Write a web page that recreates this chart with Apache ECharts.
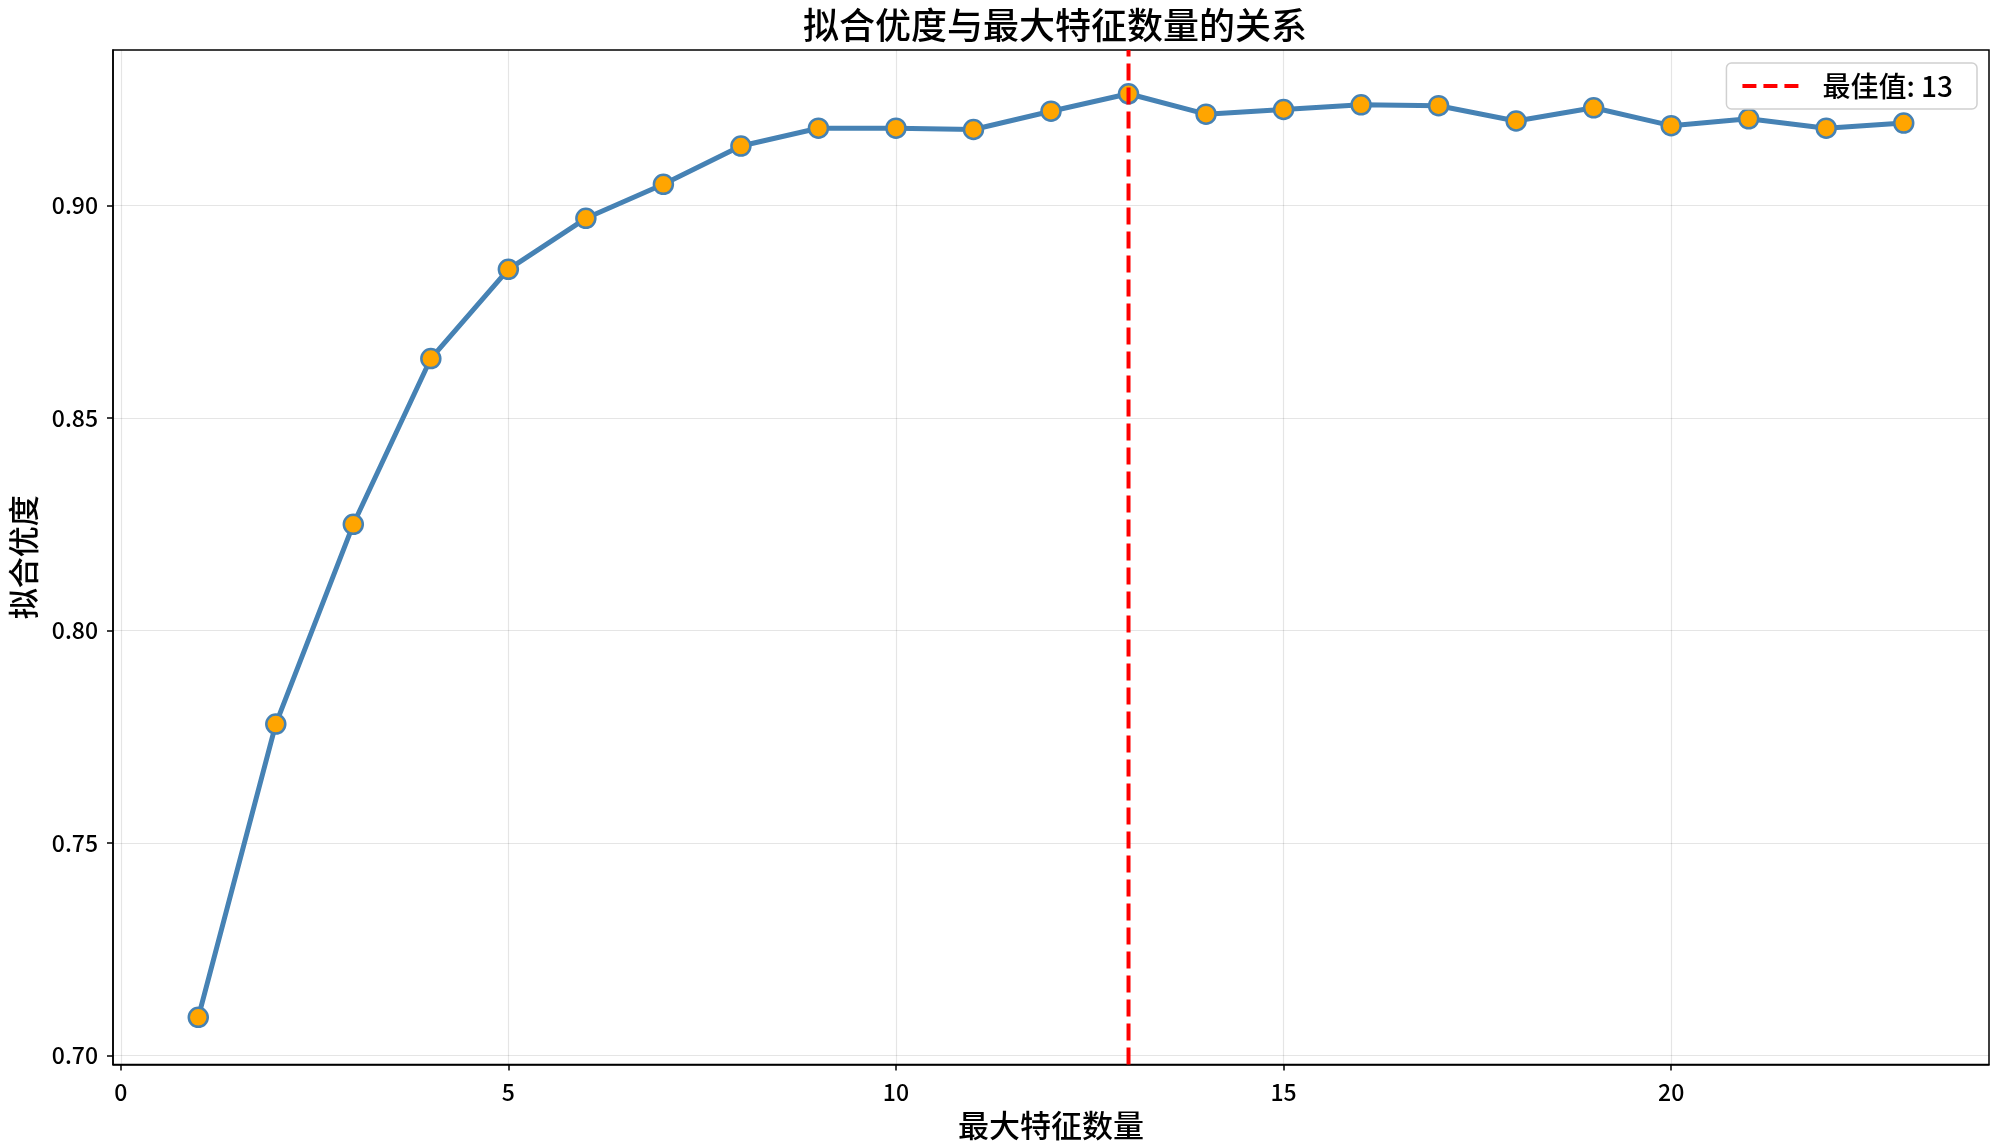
<!DOCTYPE html>
<html>
<head>
<meta charset="utf-8">
<script src="https://cdn.jsdelivr.net/npm/echarts@6/dist/echarts.min.js"></script>
<style>
  html, body { margin: 0; padding: 0; background: #fff; }
  #chart { width: 1999px; height: 1146px; }
</style>
</head>
<body>
<div id="chart"></div>
<script>
// max features tried and the fit score for each
const featureCounts = [1, 2, 3, 4, 5, 6, 7, 8, 9, 10, 11, 12, 13, 14, 15, 16, 17, 18, 19, 20, 21, 22, 23];
const fitScores = [0.709, 0.778, 0.825, 0.864, 0.885, 0.897, 0.905, 0.914, 0.9182, 0.9182, 0.9179, 0.9222, 0.9263,
  0.9215, 0.9226, 0.9237, 0.9235, 0.9199, 0.9230, 0.9188, 0.9204, 0.9182, 0.9194];
const bestK = 13;
const xTicks = [0, 5, 10, 15, 20];
const yTicks = [0.70, 0.75, 0.80, 0.85, 0.90];
const xRange = [-0.1, 24.1];
const yRange = [0.6979, 0.9366];

const FONT = '"Noto Sans CJK SC", "Noto Sans", sans-serif';
const chart = echarts.init(document.getElementById('chart'));

const axisCommon = {
  axisLine: { show: true, onZero: false, lineStyle: { color: '#000', width: 1.5 } },
  axisTick: { show: true, length: 6, lineStyle: { color: '#000', width: 1.5 } },
  splitLine: { show: true, lineStyle: { color: 'rgba(0,0,0,0.1)', width: 1.2 } },
  nameTextStyle: { fontFamily: FONT, fontSize: 31, fontWeight: 500, color: '#000' },
};

chart.setOption({
  animation: false,
  backgroundColor: '#fff',
  title: {
    text: '拟合优度与最大特征数量的关系',
    left: 1050,
    textAlign: 'center',
    top: 2,
    textStyle: { fontFamily: FONT, fontSize: 36, fontWeight: 500, color: '#000' },
  },
  legend: {
    data: ['最佳值: ' + bestK],
    right: 22,
    top: 63,
    padding: [9, 24, 9, 14],
    borderColor: '#d0d0d0',
    borderWidth: 1.5,
    borderRadius: 5,
    backgroundColor: 'rgba(255,255,255,0.85)',
    itemWidth: 57,
    itemHeight: 20,
    itemStyle: { opacity: 0 },
    lineStyle: { width: 4, type: [14, 7] },
    textStyle: { fontFamily: FONT, fontSize: 28, fontWeight: 500, color: '#000', padding: [0, 0, 0, 18] },
  },
  grid: { left: 111, right: 10, top: 50, bottom: 81.5, containLabel: false, show: true, borderColor: '#000', borderWidth: 1.5 },
  xAxis: {
    ...axisCommon,
    type: 'value',
    min: xRange[0],
    max: xRange[1],
    name: '最大特征数量',
    nameLocation: 'middle',
    nameGap: 45,
    axisTick: { ...axisCommon.axisTick, customValues: xTicks },
    axisLabel: { customValues: xTicks, margin: 16, fontFamily: FONT, fontSize: 23, fontWeight: 500, color: '#000' },
  },
  yAxis: {
    ...axisCommon,
    type: 'value',
    min: yRange[0],
    max: yRange[1],
    name: '拟合优度',
    nameLocation: 'middle',
    nameGap: 74,
    axisTick: { ...axisCommon.axisTick, customValues: yTicks },
    axisLabel: {
      customValues: yTicks, margin: 15, fontFamily: FONT, fontSize: 23, fontWeight: 500, color: '#000',
      formatter: v => v.toFixed(2),
    },
  },
  series: [
    {
      name: '拟合优度',
      type: 'line',
      data: featureCounts.map((k, i) => [k, fitScores[i]]),
      lineStyle: { color: '#4682B4', width: 5 },
      symbol: 'circle',
      symbolSize: 19,
      itemStyle: { color: '#FFA500', borderColor: '#4682B4', borderWidth: 2.5 },
      z: 2,
    },
    {
      name: '最佳值: ' + bestK,
      type: 'line',
      data: [[bestK, yRange[0]], [bestK, yRange[1]]],
      symbol: 'none',
      lineStyle: { color: '#FF0000', width: 4, type: [17, 7] },
      itemStyle: { color: '#FF0000' },
      z: 3,
    },
  ],
});
</script>
</body>
</html>
